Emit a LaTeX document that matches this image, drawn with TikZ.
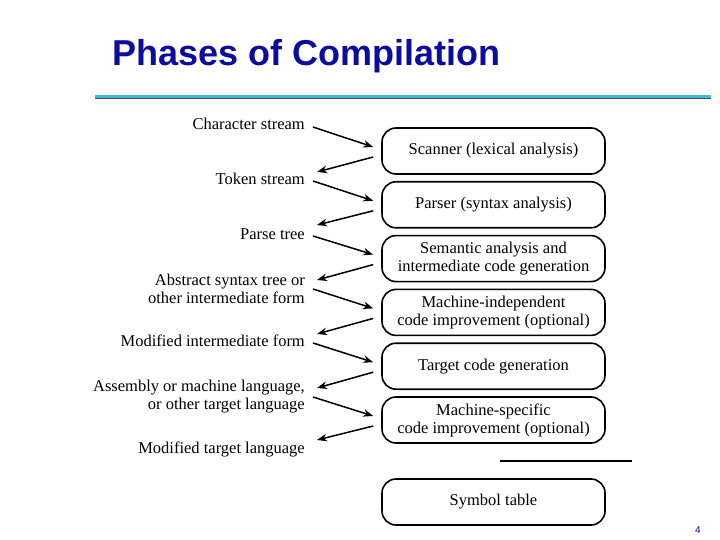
\documentclass[tikz,border=0pt]{standalone}
\usepackage{fontspec}
\setmainfont{Liberation Serif}
\setsansfont{Liberation Sans}
\usepackage{xcolor}
\usetikzlibrary{arrows.meta, positioning, calc}
\definecolor{titleblue}{RGB}{12,12,160}
\definecolor{rulecyan}{RGB}{60,190,225}
\tikzset{
  phase/.style={rectangle, rounded corners=14pt, draw=black, line width=1.6pt, minimum width=223pt, minimum height=46pt, inner sep=2pt, align=center, font=\fontsize{16.5}{18}\selectfont},
  stream/.style={anchor=east, align=right, inner sep=0pt, font=\fontsize{16.5}{18}\selectfont},
  arrow/.style={line width=1.5pt, -{Stealth[length=10pt, width=7.5pt]}}
}
\begin{document}
\begin{tikzpicture}[x=1pt, y=-1pt]
\useasboundingbox (0,0) rectangle (720,540);

% Title and rule
\node (title) [anchor=base west, inner sep=0pt, font=\sffamily\bfseries\fontsize{36}{40}\selectfont, text=titleblue] at (112,66) {Phases of Compilation};
\draw [rulecyan, line width=2.6pt] (95,96.5) -- (711,96.5);
\draw [black!70, line width=0.8pt] (95,98.6) -- (711,98.6);

% Phases
\node (scan) [phase] at (493.5,151) {Scanner (lexical analysis)};
\node (parse) [phase, below=6.2pt of scan] {Parser (syntax analysis)};
\node (sema) [phase, below=6.2pt of parse] {Semantic analysis and\\intermediate code generation};
\node (mindep) [phase, below=6.2pt of sema] {Machine-independent\\code improvement (optional)};
\node (target) [phase, below=6.2pt of mindep] {Target code generation};
\node (mspec) [phase, below=6.2pt of target] {Machine-specific\\code improvement (optional)};
\node (symtab) [phase, below=34.4pt of mspec] {Symbol table};
\draw [line width=1.6pt] (500,461) -- (632,461);

% Streams
\node (chars) [stream] at (305,124) {Character stream};
\node (tokens) [stream] at (305,179) {Token stream};
\node (ptree) [stream] at (305,234) {Parse tree};
\node (ast) [stream] at (305,289) {Abstract syntax tree or\\other intermediate form};
\node (modint) [stream] at (305,341) {Modified intermediate form};
\node (asm) [stream] at (305,397) {Assembly or machine language,\\or other target language};
\node (modtgt) [stream] at (305,449) {Modified target language};

% Flow
\draw [arrow] ($(chars.east)+(8,3)$) -- ($(scan.west)+(-8,-4)$);
\draw [arrow] ($(scan.west)+(-8,6)$) -- ($(tokens.east)+(12,-7)$);
\draw [arrow] ($(tokens.east)+(8,2)$) -- ($(parse.west)+(-8,-4)$);
\draw [arrow] ($(parse.west)+(-8,6)$) -- ($(ptree.east)+(12,-9)$);
\draw [arrow] ($(ptree.east)+(8,2)$) -- ($(sema.west)+(-8,-4)$);
\draw [arrow] ($(sema.west)+(-8,6)$) -- ($(ast.east)+(12,-9)$);
\draw [arrow] ($(ast.east)+(8,0)$) -- ($(mindep.west)+(-8,-4)$);
\draw [arrow] ($(mindep.west)+(-8,6)$) -- ($(modint.east)+(12,-7)$);
\draw [arrow] ($(modint.east)+(8,2)$) -- ($(target.west)+(-8,-4)$);
\draw [arrow] ($(target.west)+(-8,6)$) -- ($(asm.east)+(12,-9)$);
\draw [arrow] ($(asm.east)+(8,0)$) -- ($(mspec.west)+(-8,-4)$);
\draw [arrow] ($(mspec.west)+(-8,6)$) -- ($(modtgt.east)+(12,-9)$);

% Page number
\node (page) [font=\sffamily\fontsize{10}{12}\selectfont, text=titleblue] at (698,530) {4};
\end{tikzpicture}
\end{document}
